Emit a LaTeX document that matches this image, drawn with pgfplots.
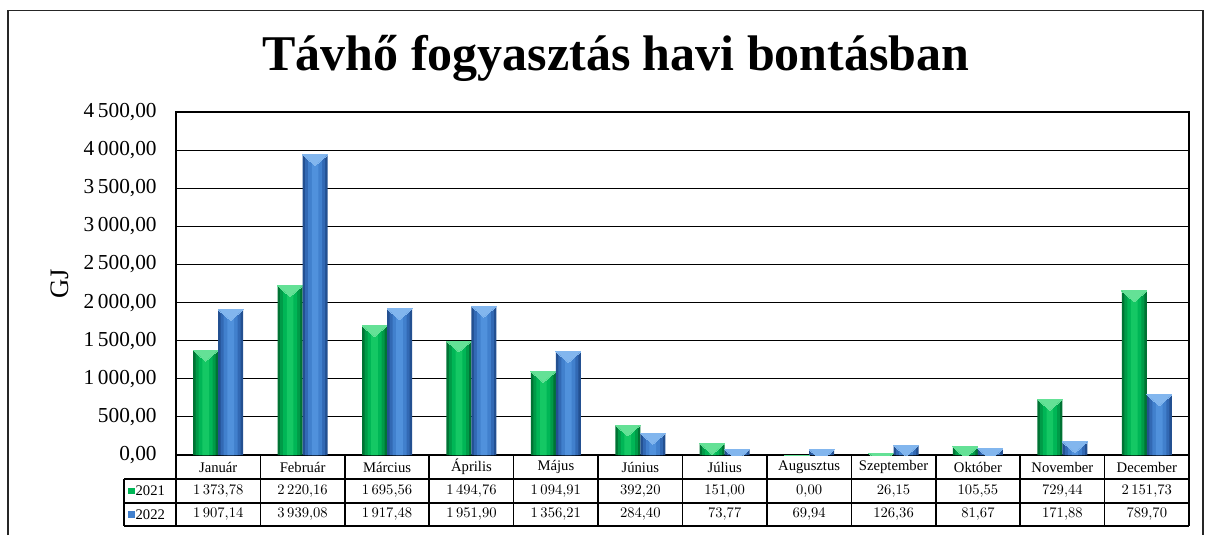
\documentclass[border=0pt]{standalone}
\usepackage{fontspec}
\setmainfont{Liberation Serif}
\usepackage{pgfplots}
\usepackage{pgfplotstable}
\pgfplotsset{compat=1.18}

% green shades, edge -> centre
\definecolor{grnA}{RGB}{0,115,52}
\definecolor{grnB}{RGB}{0,155,72}
\definecolor{grnC}{RGB}{0,182,86}
\definecolor{grnD}{RGB}{20,200,100}
\definecolor{grnT}{RGB}{100,225,150}
% blue shades, edge -> centre
\definecolor{bluA}{RGB}{35,80,145}
\definecolor{bluB}{RGB}{50,105,180}
\definecolor{bluC}{RGB}{65,128,205}
\definecolor{bluD}{RGB}{80,145,220}
\definecolor{bluT}{RGB}{130,182,238}

% month index (bar centre), 2021, 2022
\pgfplotstableread{
x    a       b
0.5  1373.78 1907.14
1.5  2220.16 3939.08
2.5  1695.56 1917.48
3.5  1494.76 1951.90
4.5  1094.91 1356.21
5.5  392.20  284.40
6.5  151.00  73.77
7.5  0.00    69.94
8.5  26.15   126.36
9.5  105.55  81.67
10.5 729.44  171.88
11.5 2151.73 789.70
}\data

\newcommand{\barlayer}[4]{\addplot[ybar, draw=none, fill=#1, bar width=#2, bar shift=#3] table[x=x,y=#4]{\data};}

\begin{document}
\begin{tikzpicture}
\pgfkeys{/pgf/number format/.cd, fixed, fixed zerofill, precision=2, use comma, 1000 sep={\,}}
% page size (1205x532 px at 0.75pt/px), axis box SW at origin
\path (-132pt,-57.75pt) rectangle (771.75pt,341.25pt);
\draw[line width=0.8pt, black!85] (-126pt,-60pt) -- (-126pt,333.4pt) -- (770.25pt,333.4pt) -- (770.25pt,-60pt);
\begin{axis}[
    at={(0,0)}, anchor=south west,
    scale only axis, width=759.75pt, height=257.25pt,
    xmin=0, xmax=12, ymin=0, ymax=4500,
    xtick={0.5,1.5,2.5,3.5,4.5,5.5,6.5,7.5,8.5,9.5,10.5,11.5},
    xticklabels={Január,Február,Március,Április,Május,Június,Július,Augusztus,Szeptember,Október,November,December},
    xticklabel style={anchor=center, yshift=-9pt, font=\fontsize{11}{13}\selectfont},
    ytick={0,500,...,4500},
    yticklabel style={font=\fontsize{16}{18}\selectfont, xshift=-11pt},
    /pgf/number format/assume math mode=true,
    major tick length=0pt,
    ymajorgrids, grid style={black, line width=0.9pt},
    axis line style={line width=0.9pt},
    ylabel={GJ},
    every axis y label/.style={at={(rel axis cs:0,0.5)}, rotate=90, anchor=center, yshift=87pt, font=\fontsize{20}{22}\selectfont},
    clip marker paths=true,
]
% 2021
\barlayer{grnA}{18.75pt}{-9.375pt}{a}
\barlayer{grnB}{15pt}{-9.375pt}{a}
\barlayer{grnC}{10.5pt}{-9.375pt}{a}
\barlayer{grnD}{5pt}{-9.375pt}{a}
\addplot[only marks, grnT, mark=triangle*, mark size=10.8pt,
  mark options={draw=grnT, fill=grnT, line width=0pt, xshift=-9.375pt, yshift=-2.7pt, yscale=-0.5}]
  table[x=x,y=a]{\data};
% 2022
\barlayer{bluA}{18.75pt}{9.375pt}{b}
\barlayer{bluB}{15pt}{9.375pt}{b}
\barlayer{bluC}{10.5pt}{9.375pt}{b}
\barlayer{bluD}{5pt}{9.375pt}{b}
\addplot[only marks, bluT, mark=triangle*, mark size=10.8pt,
  mark options={draw=bluT, fill=bluT, line width=0pt, xshift=9.375pt, yshift=-2.7pt, yscale=-0.5}]
  table[x=x,y=b]{\data};
\end{axis}
% title
\node[font=\bfseries\fontsize{37.5}{42}\selectfont] at (330pt,297.75pt) {Távhő fogyasztás havi bontásban};
% data table
\begin{scope}[line width=1.2pt]
\foreach \i in {0,...,12} \draw ({\i*63.3125pt},0) -- ({\i*63.3125pt},-53.25pt);
\draw (-39pt,-18pt) -- (759.75pt,-18pt);
\draw (-39pt,-36pt) -- (759.75pt,-36pt);
\draw (-39pt,-53.25pt) -- (759.75pt,-53.25pt);
\draw (-39pt,-18pt) -- (-39pt,-53.25pt);
\end{scope}
\foreach \v [count=\i from 0] in {1373.78,2220.16,1695.56,1494.76,1094.91,392.20,151.00,0.00,26.15,105.55,729.44,2151.73}
  \node[font=\fontsize{11}{13}\selectfont] at ({(\i+0.5)*63.3125pt},-27pt) {\pgfmathprintnumber{\v}};
\foreach \v [count=\i from 0] in {1907.14,3939.08,1917.48,1951.90,1356.21,284.40,73.77,69.94,126.36,81.67,171.88,789.70}
  \node[font=\fontsize{11}{13}\selectfont] at ({(\i+0.5)*63.3125pt},-44.6pt) {\pgfmathprintnumber{\v}};
\fill[grnC] (-36pt,-29.5pt) rectangle ++(5pt,5pt);
\fill[bluC] (-36pt,-47.1pt) rectangle ++(5pt,5pt);
\node[anchor=west, inner sep=0pt, font=\fontsize{11}{13}\selectfont] at (-30.5pt,-27pt) {2021};
\node[anchor=west, inner sep=0pt, font=\fontsize{11}{13}\selectfont] at (-30.5pt,-44.6pt) {2022};
\end{tikzpicture}
\end{document}
